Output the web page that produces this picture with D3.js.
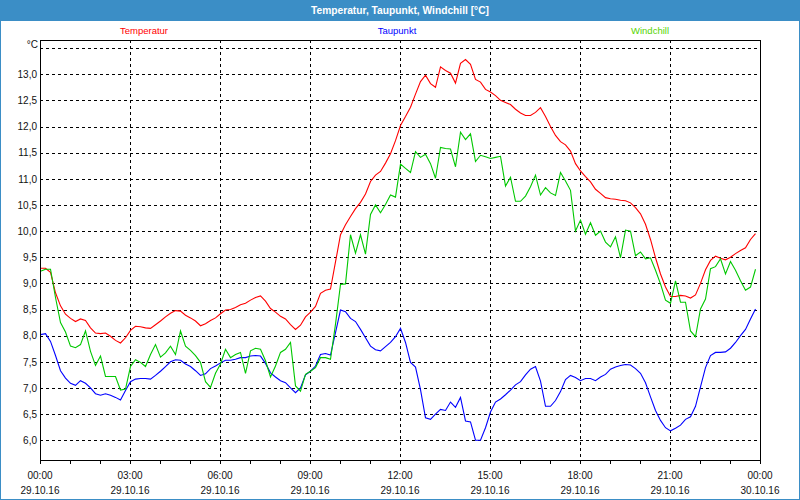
<!DOCTYPE html>
<html><head><meta charset="utf-8">
<script src="https://cdn.jsdelivr.net/npm/d3@7"></script>
<style>
html,body{margin:0;padding:0;background:#fff;}
svg{display:block;}
text{font-family:"Liberation Sans",Arial,sans-serif;}
</style></head>
<body>
<script>
const title = "Temperatur, Taupunkt, Windchill [°C]";
const seriesNames = ["Temperatur", "Taupunkt", "Windchill"];
const unitLabel = "°C";
const startTime = "2016-10-29T00:00:00";
const endTime = "2016-10-30T00:00:00";
const stepMinutes = 10;
const yTickValues = [6.0,6.5,7.0,7.5,8.0,8.5,9.0,9.5,10.0,10.5,11.0,11.5,12.0,12.5,13.0];
const yGridValues = [6.0,6.5,7.0,7.5,8.0,8.5,9.0,9.5,10.0,10.5,11.0,11.5,12.0,12.5,13.0,13.5];

const temperatur = [
9.30,9.30,9.22,8.83,8.58,8.42,8.34,8.28,8.33,8.30,8.16,8.06,8.05,8.06,8.00,7.92,7.87,7.97,8.11,8.19,8.18,8.16,8.15,8.22,8.29,8.37,8.44,8.49,8.48,8.40,8.35,8.29,8.20,8.24,8.30,8.35,8.43,
8.50,8.51,8.55,8.60,8.63,8.69,8.74,8.77,8.67,8.53,8.46,8.38,8.33,8.22,8.13,8.21,8.37,8.46,8.57,8.82,8.88,8.90,9.42,9.94,10.13,10.29,10.44,10.56,10.72,10.96,11.08,11.15,11.31,11.49,11.74,12.03,
12.20,12.38,12.63,12.87,12.99,12.83,12.76,13.15,13.08,13.03,12.84,13.22,13.29,13.20,12.91,12.86,12.72,12.67,12.60,12.51,12.47,12.43,12.34,12.27,12.22,12.22,12.28,12.37,12.20,12.01,11.84,11.72,11.66,11.54,11.30,11.16,
11.05,10.95,10.81,10.73,10.65,10.63,10.62,10.60,10.59,10.55,10.46,10.34,10.14,9.85,9.50,9.19,8.94,8.76,8.76,8.78,8.77,8.73,8.79,9.01,9.27,9.45,9.53,9.49,9.46,9.51,9.58,9.64,9.69,9.85,9.96];

const taupunkt = [
8.03,8.05,7.90,7.63,7.34,7.20,7.10,7.06,7.15,7.10,7.01,6.90,6.87,6.90,6.87,6.83,6.78,6.96,7.13,7.18,7.19,7.19,7.18,7.25,7.33,7.42,7.51,7.55,7.54,7.47,7.42,7.34,7.25,7.28,7.38,7.43,7.49,
7.54,7.54,7.56,7.59,7.59,7.62,7.63,7.62,7.48,7.30,7.22,7.15,7.11,7.01,6.92,7.01,7.26,7.33,7.43,7.65,7.67,7.64,8.07,8.50,8.47,8.34,8.28,8.13,7.97,7.81,7.74,7.72,7.80,7.88,7.99,8.15,
7.88,7.50,7.41,6.98,6.44,6.41,6.51,6.60,6.58,6.74,6.64,6.83,6.38,6.36,6.01,6.01,6.25,6.55,6.74,6.80,6.88,6.97,7.07,7.13,7.26,7.37,7.42,7.14,6.66,6.66,6.77,6.94,7.17,7.25,7.21,7.15,
7.19,7.19,7.15,7.22,7.27,7.37,7.41,7.44,7.46,7.45,7.38,7.29,7.11,6.84,6.58,6.39,6.25,6.19,6.24,6.30,6.41,6.46,6.66,7.03,7.40,7.63,7.69,7.69,7.70,7.77,7.88,8.01,8.13,8.33,8.52];

const windchill = [
9.24,9.28,9.28,8.74,8.26,8.08,7.81,7.78,7.84,8.10,7.71,7.44,7.62,7.23,7.23,7.23,6.97,6.99,7.42,7.55,7.50,7.42,7.65,7.84,7.60,7.68,7.81,7.65,8.10,7.81,7.73,7.63,7.50,7.13,7.02,7.29,7.47,
7.75,7.59,7.65,7.69,7.29,7.72,7.77,7.75,7.53,7.22,7.43,7.69,7.75,7.88,7.05,6.95,7.27,7.33,7.40,7.59,7.59,7.56,8.23,8.99,9.00,9.94,9.59,9.94,9.57,10.33,10.51,10.36,10.52,10.70,10.66,11.29,
11.21,11.13,11.53,11.42,11.48,11.30,11.02,11.61,11.59,11.58,11.24,11.90,11.76,11.87,11.34,11.46,11.43,11.40,11.42,11.44,10.87,11.04,10.58,10.58,10.68,10.86,11.08,10.70,10.84,10.74,10.69,11.13,10.97,10.79,10.01,10.22,
9.95,10.17,9.93,10.01,9.80,9.71,9.90,9.50,10.03,10.01,9.54,9.61,9.48,9.50,9.26,9.00,8.69,8.63,9.06,8.65,8.65,8.10,7.99,8.52,8.71,9.29,9.33,9.48,9.19,9.43,9.26,9.06,8.88,8.94,9.28];

const W = 800, H = 500;
const M = {left:40, right:40, top:40, bottom:40};
const svg = d3.select("body").append("svg").attr("width", W).attr("height", H);

// window frame & title bar
svg.append("rect").attr("x",0.5).attr("y",0.5).attr("width",W-1).attr("height",H-1)
  .attr("fill","#ffffff").attr("stroke","#3b8ec6").attr("stroke-width",1);
svg.append("rect").attr("x",0).attr("y",0).attr("width",W).attr("height",21).attr("fill","#3b8ec6");
svg.append("text").attr("x",W/2).attr("y",14).attr("text-anchor","middle")
  .attr("fill","#ffffff").attr("font-size","11px").attr("font-weight","bold")
  .attr("textLength",178).attr("lengthAdjust","spacingAndGlyphs").text(title);

const t0 = new Date(startTime), t1 = new Date(endTime);
const x = d3.scaleTime().domain([t0, t1]).range([M.left, W - M.right]);
const y = d3.scaleLinear().domain([5.623, 13.655]).range([H - M.bottom, M.top]);

const times = temperatur.map((_, i) => new Date(t0.getTime() + i * stepMinutes * 60000));

// gridlines
const g = svg.append("g").attr("shape-rendering","crispEdges");
g.selectAll(".hg").data(yGridValues).join("line")
  .attr("x1", M.left).attr("x2", W - M.right)
  .attr("y1", d => Math.round(y(d)) + 0.5).attr("y2", d => Math.round(y(d)) + 0.5)
  .attr("stroke","#000").attr("stroke-dasharray","3,3");
const vTicks = d3.timeHour.every(3).range(t0, d3.timeHour.offset(t1, 1)).filter(d => d > t0 && d < t1);
g.selectAll(".vg").data(vTicks).join("line")
  .attr("y1", M.top).attr("y2", H - M.bottom)
  .attr("x1", d => Math.round(x(d)) + 0.5).attr("x2", d => Math.round(x(d)) + 0.5)
  .attr("stroke","#000").attr("stroke-dasharray","3,3");

// series lines
const colors = ["#ff0000", "#0000ff", "#00c800"];
const legendColors = ["#ff0000", "#0000ff", "#55d400"];
const data = [temperatur, taupunkt, windchill];
const line = d3.line().x((d,i) => x(times[i]) + 0.5).y(d => y(d) + 0.5);
data.forEach((s, k) => {
  svg.append("path").datum(s).attr("d", line).attr("fill","none")
    .attr("stroke", colors[k]).attr("stroke-width", 1.1);
});

// frame
svg.append("rect").attr("x", M.left + 0.5).attr("y", M.top + 0.5)
  .attr("width", W - M.left - M.right).attr("height", H - M.top - M.bottom)
  .attr("fill","none").attr("stroke","#000").attr("stroke-width",1).attr("shape-rendering","crispEdges");

// y axis labels
const yAxis = d3.axisLeft(y).tickValues(yTickValues).tickSize(0).tickPadding(3)
  .tickFormat(d => d3.format(".1f")(d).replace(".", ","));
const ya = svg.append("g").attr("transform", `translate(${M.left},0)`).call(yAxis);
ya.select(".domain").remove();
ya.selectAll("text").attr("font-size","10px").attr("fill","#111").attr("font-family","Liberation Sans");
svg.append("text").attr("x", M.left - 2).attr("y", 48).attr("text-anchor","end")
  .attr("font-size","10px").attr("fill","#111").text(unitLabel);

// x axis
const xAxis = d3.axisBottom(x).ticks(d3.timeHour.every(1)).tickSize(4).tickFormat("");
const xa = svg.append("g").attr("transform", `translate(0,${H - M.bottom})`).call(xAxis);
xa.select(".domain").remove();
xa.selectAll("line").attr("stroke","#000").attr("shape-rendering","crispEdges");
const labelTicks = d3.timeHour.every(3).range(t0, d3.timeHour.offset(t1, 1));
const fmtTime = d3.timeFormat("%H:%M"), fmtDate = d3.timeFormat("%d.%m.%y");
const lab = svg.append("g");
labelTicks.forEach(d => {
  lab.append("text").attr("x", x(d)).attr("y", 479).attr("text-anchor","middle")
    .attr("font-size","10px").attr("fill","#111").text(fmtTime(d));
  lab.append("text").attr("x", x(d)).attr("y", 494).attr("text-anchor","middle")
    .attr("font-size","10px").attr("fill","#111").text(fmtDate(d));
});

// legend
const legendX = [144, 397, 650];
seriesNames.forEach((n, k) => {
  svg.append("text").attr("x", legendX[k]).attr("y", 34).attr("text-anchor","middle")
    .attr("font-size","9.5px").attr("fill", legendColors[k]).text(n);
});
</script>
</body></html>
